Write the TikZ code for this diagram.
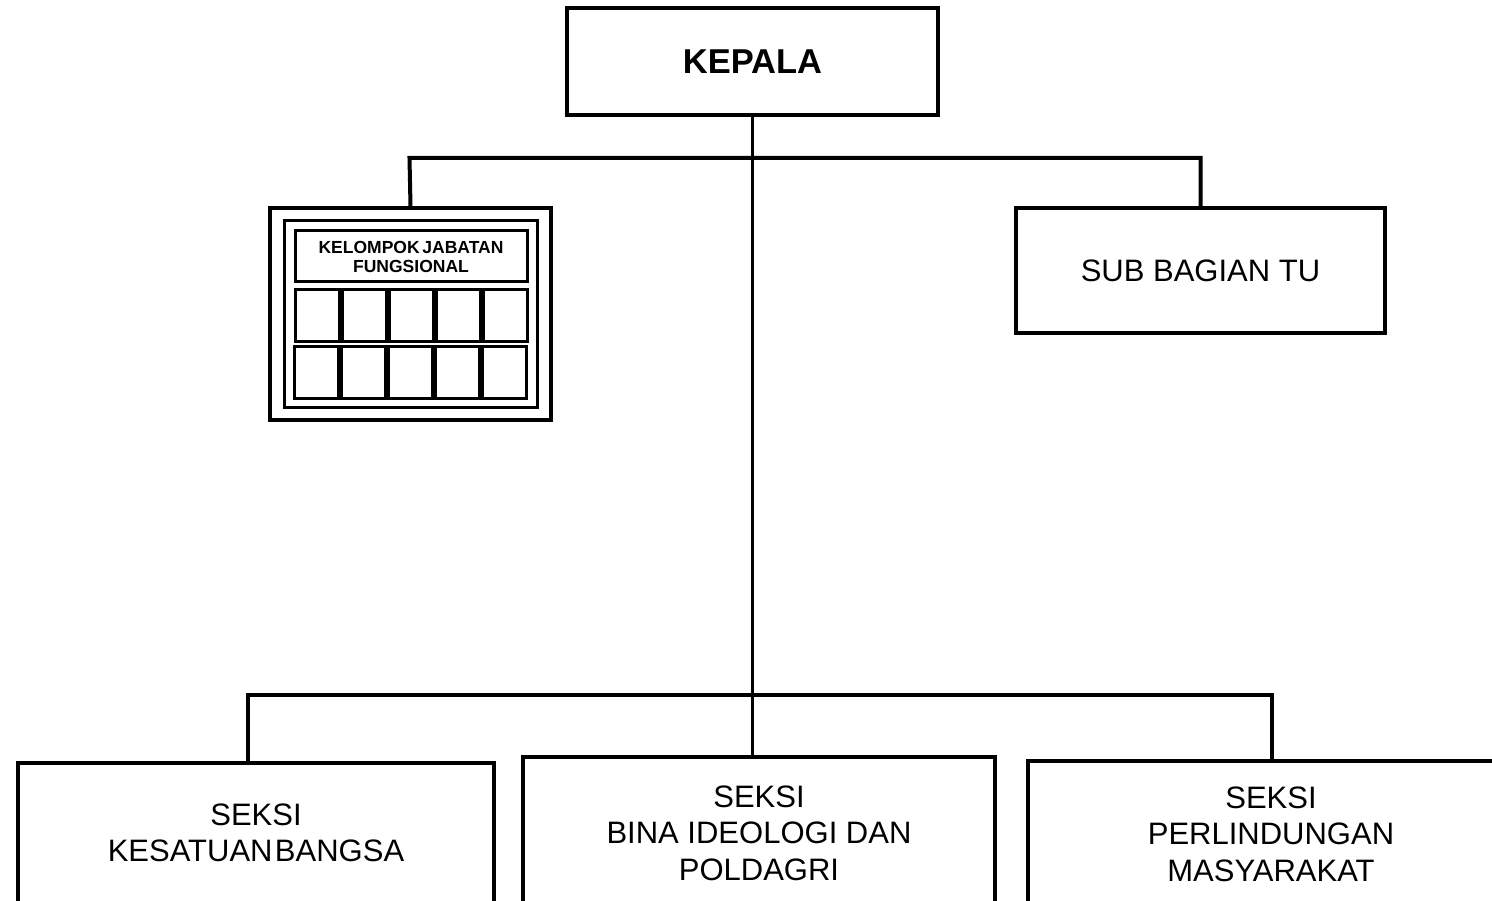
\documentclass[tikz,border=0pt]{standalone}
\usepackage{fontspec}
\setmainfont{Liberation Sans}
\begin{document}
\begin{tikzpicture}[x=1pt,y=-1pt,
  unit/.style={draw,line width=4pt,rectangle,inner sep=0pt,align=center,
    font=\fontsize{31}{36.5}\selectfont},
  frame/.style={draw,line width=3.5pt,rectangle,inner sep=0pt},
  cell/.style={draw,line width=3pt,rectangle,inner sep=0pt,
    minimum width=44pt,minimum height=52pt},
  link/.style={line width=4pt},
]
\useasboundingbox (0,0) rectangle (1492,901);
\fill[white] (0,0) rectangle (1492,901);

% head of the office
\node[unit,minimum width=371pt,minimum height=107pt,
  font=\fontsize{34.5}{40}\selectfont\bfseries] (kepala) at (752.5,62) {KEPALA};

% functional group board
\node[frame,minimum width=281pt,minimum height=212pt] (kjf) at (410.5,314) {};
\node[frame,line width=3pt,minimum width=253pt,minimum height=186pt] (kjfin) at (410.5,314) {};
\node[frame,line width=3pt,minimum width=232pt,minimum height=51pt,align=center,
  font=\fontsize{17.5}{19}\selectfont\bfseries] (kjft) at (411,256.5)
  {KELOMPOK\hspace{-0.12em} JABATAN\\FUNGSIONAL};
\foreach \i [count=\k] in {317,364,411,458,505}{
  \node[cell] (ca\k) at (\i,316) {};
  \node[cell] (cb\k) at (\i-1,372.5) {};
}

% administration
\node[unit,minimum width=369pt,minimum height=125pt] (sub) at (1200.5,270.5) {SUB BAGIAN TU};

% sections
\node[unit,minimum width=476pt,minimum height=140pt] (ks) at (256,833)
  {SEKSI\\KESATUAN\hspace{-0.2em} BANGSA};
\node[unit,minimum width=472pt,minimum height=152pt] (bi) at (759,833) {SEKSI\\BINA IDEOLOGI DAN\\POLDAGRI};
\node[unit,minimum width=486pt,minimum height=146pt] (pm) at (1271,834) {SEKSI\\PERLINDUNGAN\\MASYARAKAT};

% connectors
\coordinate (busL) at (409.5,158);
\coordinate (busR) at (1200.5,158);
\coordinate (lowL) at (248,695);
\coordinate (lowR) at (1272,695);
\draw[link,line width=3.5pt] (kepala.south) -- (kepala.south |- bi.north);
\draw[link] (kjf.north) -- (busL) -- (busR) -- (sub.north);
\draw[link] (lowL |- ks.north) -- (lowL) -- (lowR) -- (lowR |- pm.north);
\end{tikzpicture}
\end{document}
